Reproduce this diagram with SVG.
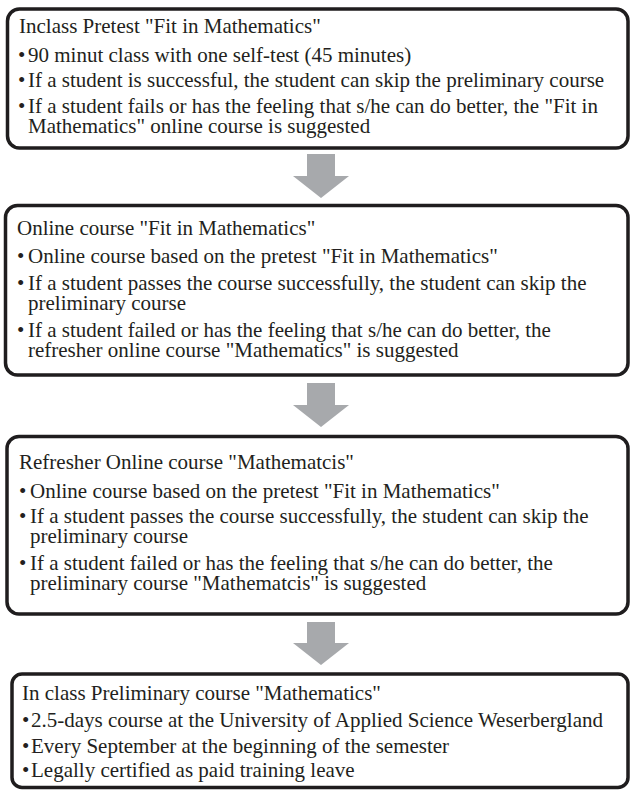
<svg xmlns="http://www.w3.org/2000/svg" width="630" height="790" viewBox="0 0 630 790">
  <style>
    .box { fill: #ffffff; stroke: #1f1d1e; stroke-width: 3.5; }
    .t { font-family: "Liberation Serif", "Times New Roman", serif; font-size: 21px; fill: #231f20; }
    .arrow { fill: #a7a9ac; stroke: none; }
  </style>
  <rect x="0" y="0" width="630" height="790" fill="#ffffff"/>

  <g id="connectors">
    <polygon class="arrow" points="307,154 335,154 335,176 349,176 321,198 293,176 307,176"/>
    <polygon class="arrow" points="307,383 335,383 335,405 349,405 321,427 293,405 307,405"/>
    <polygon class="arrow" points="307,622 335,622 335,643 349,643 321,665 293,643 307,643"/>
  </g>

  <g id="node-inclass-pretest">
    <rect class="box" x="7.5" y="9" width="620.5" height="139" rx="12" ry="12"/>
    <text class="t" x="19" y="33">Inclass Pretest "Fit in Mathematics"</text>
    <text class="t"><tspan x="18" y="62">•</tspan><tspan x="28" y="62">90 minut class with one self-test (45 minutes)</tspan></text>
    <text class="t"><tspan x="18" y="87">•</tspan><tspan x="28" y="87">If a student is successful, the student can skip the preliminary course</tspan></text>
    <text class="t"><tspan x="18" y="113">•</tspan><tspan x="28" y="113">If a student fails or has the feeling that s/he can do better, the "Fit in</tspan><tspan x="28" y="133">Mathematics" online course is suggested</tspan></text>
  </g>

  <g id="node-online-course">
    <rect class="box" x="5.5" y="205.5" width="622.5" height="169.5" rx="12" ry="12"/>
    <text class="t" x="17" y="235">Online course "Fit in Mathematics"</text>
    <text class="t"><tspan x="17" y="263">•</tspan><tspan x="28" y="263">Online course based on the pretest "Fit in Mathematics"</tspan></text>
    <text class="t"><tspan x="17" y="290">•</tspan><tspan x="28" y="290">If a student passes the course successfully, the student can skip the</tspan><tspan x="28" y="310">preliminary course</tspan></text>
    <text class="t"><tspan x="17" y="337">•</tspan><tspan x="28" y="337">If a student failed or has the feeling that s/he can do better, the</tspan><tspan x="28" y="357">refresher online course "Mathematics" is suggested</tspan></text>
  </g>

  <g id="node-refresher-course">
    <rect class="box" x="7" y="436.5" width="621" height="177.5" rx="12" ry="12"/>
    <text class="t" x="19" y="469">Refresher Online course "Mathematcis"</text>
    <text class="t"><tspan x="19" y="498">•</tspan><tspan x="30" y="498">Online course based on the pretest "Fit in Mathematics"</tspan></text>
    <text class="t"><tspan x="19" y="523">•</tspan><tspan x="30" y="523">If a student passes the course successfully, the student can skip the</tspan><tspan x="30" y="543">preliminary course</tspan></text>
    <text class="t"><tspan x="19" y="570">•</tspan><tspan x="30" y="570">If a student failed or has the feeling that s/he can do better, the</tspan><tspan x="30" y="590">preliminary course "Mathematcis" is suggested</tspan></text>
  </g>

  <g id="node-preliminary-course">
    <rect class="box" x="12" y="674" width="616" height="113.5" rx="10" ry="10"/>
    <text class="t" x="22" y="700">In class Preliminary course "Mathematics"</text>
    <text class="t"><tspan x="22" y="727">•</tspan><tspan x="31" y="727">2.5-days course at the University of Applied Science Weserbergland</tspan></text>
    <text class="t"><tspan x="22" y="753">•</tspan><tspan x="31" y="753">Every September at the beginning of the semester</tspan></text>
    <text class="t"><tspan x="22" y="777">•</tspan><tspan x="31" y="777">Legally certified as paid training leave</tspan></text>
  </g>
</svg>
